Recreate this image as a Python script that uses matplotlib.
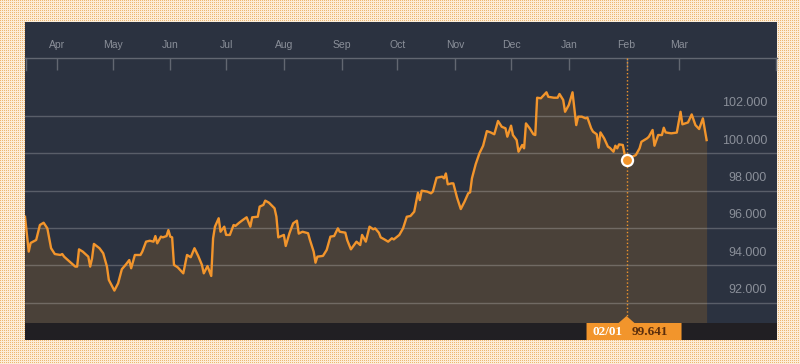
import matplotlib
matplotlib.use("Agg")
import matplotlib.pyplot as plt
import matplotlib.transforms as mtransforms
from matplotlib.patches import Rectangle, Polygon
import numpy as np
import pandas as pd

# ---- data ----
DATES = [
    "2016-03-15", "2016-03-17", "2016-03-18", "2016-03-21", "2016-03-23", "2016-03-25",
    "2016-03-27", "2016-03-29", "2016-03-31",
    "2016-04-03", "2016-04-04", "2016-04-05", "2016-04-07", "2016-04-11", "2016-04-12",
    "2016-04-13", "2016-04-15", "2016-04-18", "2016-04-19", "2016-04-20", "2016-04-21",
    "2016-04-24", "2016-04-26", "2016-04-28", "2016-04-29",
    "2016-05-02", "2016-05-04", "2016-05-06", "2016-05-08", "2016-05-10", "2016-05-11",
    "2016-05-13", "2016-05-16", "2016-05-17", "2016-05-19", "2016-05-21", "2016-05-23",
    "2016-05-24", "2016-05-25", "2016-05-27", "2016-05-28", "2016-05-30", "2016-05-31",
    "2016-06-01", "2016-06-02", "2016-06-03", "2016-06-05", "2016-06-08", "2016-06-10",
    "2016-06-12", "2016-06-14", "2016-06-16", "2016-06-18", "2016-06-19", "2016-06-21",
    "2016-06-23", "2016-06-24", "2016-06-25", "2016-06-27", "2016-06-28", "2016-06-30",
    "2016-07-01", "2016-07-03", "2016-07-05", "2016-07-06", "2016-07-08", "2016-07-10",
    "2016-07-12", "2016-07-14", "2016-07-15", "2016-07-18", "2016-07-19", "2016-07-21",
    "2016-07-22", "2016-07-24", "2016-07-27", "2016-07-28", "2016-07-29",
    "2016-08-01", "2016-08-02", "2016-08-04", "2016-08-06", "2016-08-08", "2016-08-09",
    "2016-08-11", "2016-08-14", "2016-08-15", "2016-08-17", "2016-08-18", "2016-08-19",
    "2016-08-22", "2016-08-24", "2016-08-26", "2016-08-28", "2016-08-30", "2016-08-31",
    "2016-09-03", "2016-09-04", "2016-09-06", "2016-09-09", "2016-09-11", "2016-09-12",
    "2016-09-14", "2016-09-16", "2016-09-18", "2016-09-19", "2016-09-21", "2016-09-22",
    "2016-09-24", "2016-09-26", "2016-09-28", "2016-09-29",
    "2016-10-02", "2016-10-04", "2016-10-06", "2016-10-08", "2016-10-10", "2016-10-12",
    "2016-10-13", "2016-10-14", "2016-10-17", "2016-10-19", "2016-10-20", "2016-10-22",
    "2016-10-25", "2016-10-26", "2016-10-27", "2016-10-28", "2016-10-30", "2016-10-31",
    "2016-11-02", "2016-11-04", "2016-11-06", "2016-11-08", "2016-11-09", "2016-11-10",
    "2016-11-12", "2016-11-14", "2016-11-16", "2016-11-18", "2016-11-20", "2016-11-22",
    "2016-11-24", "2016-11-26", "2016-11-28", "2016-11-29",
    "2016-12-01", "2016-12-02", "2016-12-04", "2016-12-05", "2016-12-07", "2016-12-08",
    "2016-12-09", "2016-12-11", "2016-12-13", "2016-12-14", "2016-12-15", "2016-12-17",
    "2016-12-20", "2016-12-21", "2016-12-24", "2016-12-26", "2016-12-27", "2016-12-29",
    "2016-12-30",
    "2017-01-01", "2017-01-03", "2017-01-05", "2017-01-06", "2017-01-08", "2017-01-10",
    "2017-01-11", "2017-01-13", "2017-01-14", "2017-01-16", "2017-01-17", "2017-01-18",
    "2017-01-20", "2017-01-22", "2017-01-23", "2017-01-25", "2017-01-26", "2017-01-27",
    "2017-01-28", "2017-01-30", "2017-01-31",
    "2017-02-01", "2017-02-04", "2017-02-06", "2017-02-08", "2017-02-09", "2017-02-12",
    "2017-02-13", "2017-02-15", "2017-02-16", "2017-02-18", "2017-02-20", "2017-02-21",
    "2017-02-22", "2017-02-25", "2017-02-28",
    "2017-03-02", "2017-03-03", "2017-03-06", "2017-03-08", "2017-03-10", "2017-03-12",
    "2017-03-14", "2017-03-16",
]
VALUES = [
    96.60, 94.74, 95.20, 95.36, 96.16, 96.28,
    95.98, 94.92, 94.61,
    94.56, 94.61, 94.47, 94.29, 93.94, 93.94,
    94.86, 94.74, 94.47, 93.94, 94.38, 95.15,
    94.92, 94.65, 93.94, 93.23,
    92.66, 93.05, 93.80, 94.03, 94.29, 93.85,
    94.56, 94.56, 94.74, 95.27, 95.32, 95.27,
    95.57, 95.18, 95.54, 95.50, 95.57, 95.89,
    95.54, 95.50, 94.03, 93.90, 93.58, 94.56,
    94.44, 94.92, 94.51, 94.03, 93.58, 93.97,
    93.44, 95.45, 96.07, 96.52, 95.80, 96.07,
    95.63, 95.63, 96.16, 96.11, 96.28, 96.43,
    96.57, 96.07, 96.57, 96.60, 97.14, 97.23,
    97.46, 97.35, 97.05, 96.60, 95.50,
    95.63, 95.04, 95.72, 96.25, 96.39, 95.70,
    95.80, 95.72, 95.36, 94.74, 94.15, 94.47,
    94.51, 94.83, 95.54, 95.57, 95.98, 95.80,
    95.75, 95.36, 94.86, 95.27, 95.09, 95.63,
    95.27, 96.07, 95.93, 95.98, 95.75, 95.50,
    95.39, 95.27, 95.45, 95.39,
    95.63, 95.98, 96.60, 96.64, 96.87, 97.88,
    97.49, 97.99, 97.94, 97.85, 97.94, 98.68,
    98.74, 98.65, 98.91, 98.33, 98.38, 98.38,
    97.62, 97.01, 97.40, 97.85, 97.90, 98.65,
    99.40, 99.98, 100.39, 101.17, 101.10, 101.00,
    101.71, 101.40, 101.32, 100.87,
    101.46, 100.96, 100.69, 100.07, 100.43, 100.25,
    101.58, 101.32, 101.00, 100.96, 102.95, 102.92,
    103.24, 103.00, 102.95, 102.95, 103.15, 102.83,
    102.20,
    102.56, 103.24, 101.49, 101.94, 101.94, 101.85,
    101.89, 101.32, 101.14, 101.00, 100.28, 101.10,
    100.78, 100.34, 100.28, 100.07, 100.39, 100.25,
    100.46, 100.43, 99.93,
    99.641, 99.80, 99.89, 100.25, 100.60, 100.78,
    100.87, 101.23, 100.39, 100.96, 100.96, 101.35,
    101.10, 101.05, 101.09,
    102.20, 101.53, 101.63, 102.06, 101.49, 101.28,
    101.85, 100.69,
]
MONTH_STARTS = [
    "2016-04-01", "2016-05-01", "2016-06-01", "2016-07-01", "2016-08-01", "2016-09-01",
    "2016-10-01", "2016-11-01", "2016-12-01", "2017-01-01", "2017-02-01", "2017-03-01",
]
MONTH_LABELS = ["Apr", "May", "Jun", "Jul", "Aug", "Sep",
                "Oct", "Nov", "Dec", "Jan", "Feb", "Mar"]
Y_TICKS = [92, 94, 96, 98, 100, 102]
CURSOR_DATE = "2017-02-01"
CURSOR_LABEL = "02/01"

# ---- style ----
W, H = 800, 364
NAVY = "#2b3240"
FILL = "#4a4139"
ORANGE = "#f2952c"
GREY_TXT = "#8a8f99"
AXIS_LINE = "#626771"

dates = pd.to_datetime(DATES)
values = np.array(VALUES)
cursor = pd.Timestamp(CURSOR_DATE)
cursor_value = values[list(dates).index(cursor)]

fig = plt.figure(figsize=(W / 100, H / 100), dpi=100)

# dotted cream paper around the panel
yy, xx = np.mgrid[0:H, 0:W]
dots = ((xx % 2) == 0) & ((yy % 2) == 0)
paper = np.where(dots[..., None],
                 np.array([0.93, 0.72, 0.45]),
                 np.array([0.99, 0.93, 0.85]))
fig.figimage(paper, 0, 0, zorder=0)

# dark panel
panel = fig.add_axes([25 / W, (H - 340) / H, 752 / W, 318 / H], zorder=1)
panel.set_facecolor(NAVY)
panel.set_xticks([])
panel.set_yticks([])
for s in panel.spines.values():
    s.set_visible(False)

ax = fig.add_axes([25 / W, (H - 323) / H, 752 / W, 265 / H], zorder=2)
ax.set_facecolor("none")

ymin, ymax = 90.93, 105.07
ax.set_xlim(dates[0], dates[-1] + pd.Timedelta(days=37.8))
ax.set_ylim(ymin, ymax)

ax.fill_between(dates, values, ymin, color=FILL, lw=0, zorder=1)
for t in Y_TICKS:
    ax.axhline(t, color="white", alpha=0.22, lw=1, zorder=2)
ax.plot(dates, values, color=ORANGE, lw=1.7, zorder=4, solid_joinstyle="round")

# cursor
ax.axvline(cursor, color=ORANGE, lw=1, ls=(0, (1, 1.6)), zorder=3)
ax.plot([cursor], [cursor_value], "o", ms=8, mfc=ORANGE, mec="white", mew=1.6, zorder=5)

# month axis on top
ax.xaxis.set_ticks_position("top")
ax.set_xticks(pd.to_datetime(MONTH_STARTS))
ax.set_xticklabels(MONTH_LABELS, family="Liberation Sans")
ax.tick_params(axis="x", direction="in", length=8.5, width=1, color=AXIS_LINE,
               labelcolor=GREY_TXT, labelsize=7.5, pad=5.5)
ax.set_yticks([])
for side in ["left", "right", "bottom"]:
    ax.spines[side].set_visible(False)
ax.spines["top"].set_color(AXIS_LINE)
ax.spines["top"].set_linewidth(1)
for xe in [0.001, 0.999]:
    ax.plot([xe, xe], [1, 1 - 12 / 265], transform=ax.transAxes, color=AXIS_LINE,
            lw=1, clip_on=False, zorder=3)

# value labels sitting above their grid lines
lab_tr = mtransforms.offset_copy(ax.get_yaxis_transform(), fig=fig, y=9, units="points")
for t in Y_TICKS:
    ax.text(0.9867, t, f"{t:.3f}", transform=lab_tr, ha="right", va="center",
            color=GREY_TXT, fontsize=9, family="Liberation Sans")

# bottom bar
fig.add_artist(Rectangle((25 / W, (H - 340) / H), 752 / W, 17 / H,
                         transform=fig.transFigure, color="#211f23", lw=0, zorder=3))

# cursor tag
xp = ax.transData.transform((ax.convert_xunits(cursor), 0))[0] * 100 / fig.dpi
tag = [(xp - 40, 24), (xp + 55, 24), (xp + 55, 41), (xp + 8, 41), (xp, 48),
       (xp - 8, 41), (xp - 40, 41)]
fig.add_artist(Polygon([(a / W, b / H) for a, b in tag], closed=True,
                       transform=fig.transFigure, color=ORANGE, lw=0, zorder=4))
fig.text((xp - 34) / W, 32 / H, CURSOR_LABEL, color="white", fontweight="bold",
         family="Liberation Serif", fontsize=9.5, va="center", ha="left", zorder=5)
fig.text((xp + 5) / W, 32 / H, f"{cursor_value:.3f}", color="#5b2e0c",
         fontweight="bold", family="Liberation Serif", fontsize=9.5,
         va="center", ha="left", zorder=5)

fig.savefig("out.png", dpi=100)
